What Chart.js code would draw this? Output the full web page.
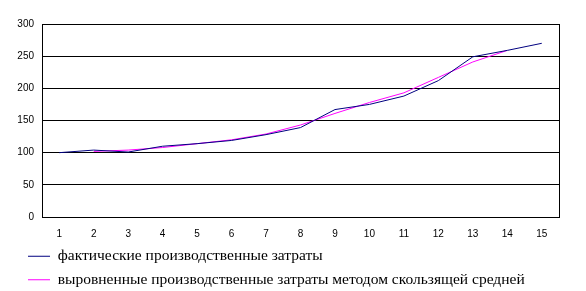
<!DOCTYPE html>
<html>
<head>
<meta charset="utf-8">
<script src="https://cdn.jsdelivr.net/npm/chart.js@4"></script>
<style>
  html, body { margin: 0; padding: 0; background: #fff; }
  #wrap { width: 586px; height: 291px; }
</style>
</head>
<body>
<div id="wrap"><canvas id="costChart"></canvas></div>
<script>
// --- DATA ---
const periods = ['1', '2', '3', '4', '5', '6', '7', '8', '9', '10', '11', '12', '13', '14', '15'];
const actualCosts = [100, 104, 101, 110, 114, 119, 128, 139, 167, 175, 188, 212, 249, 259, 270];
const smoothedCosts = [null, 102, 104, 108, 114, 120, 129, 143, 161, 178, 193, 217, 241, 259, null];
const seriesNames = [
  'фактические производственные затраты',
  'выровненные производственные затраты методом скользящей средней'
];

// рамка вокруг области построения + положение легенды
const plotBorder = {
  id: 'plotBorder',
  afterLayout(chart) {
    if (chart.legend) {
      chart.legend.left = 20;
      chart.legend.top = 240.5;
    }
  },
  afterDraw(chart) {
    const { ctx, chartArea: a } = chart;
    ctx.save();
    ctx.strokeStyle = '#000';
    ctx.lineWidth = 1;
    ctx.strokeRect(Math.round(a.left) + 0.5, Math.round(a.top) + 0.5,
      Math.round(a.right - a.left), Math.round(a.bottom - a.top));
    ctx.restore();
  }
};

const ctx = document.getElementById('costChart').getContext('2d');
const costChart = new Chart(ctx, {
  type: 'line',
  data: {
    labels: periods,
    datasets: [{
      label: seriesNames[0],
      data: actualCosts,
      borderColor: '#000080',
      backgroundColor: '#000080',
      borderWidth: 1,
      pointRadius: 0,
      tension: 0
    }, {
      label: seriesNames[1],
      data: smoothedCosts,
      borderColor: '#ff00ff',
      backgroundColor: '#ff00ff',
      borderWidth: 1,
      pointRadius: 0,
      tension: 0
    }]
  },
  options: {
    responsive: true,
    maintainAspectRatio: false,
    animation: false,
    layout: { padding: { left: 0, right: 27, top: 24, bottom: -17 } },
    plugins: {
      tooltip: { enabled: false },
      legend: {
        position: 'bottom',
        align: 'start',
        labels: {
          usePointStyle: true,
          pointStyle: 'line',
          pointStyleWidth: 22,
          padding: 8,
          color: '#000',
          font: { family: "'Liberation Serif', 'Times New Roman', serif", size: 15.5 }
        }
      }
    },
    scales: {
      x: {
        offset: true,
        grid: { display: false, drawTicks: false },
        border: { display: true, color: '#000', width: 1 },
        ticks: {
          color: '#000',
          padding: 11,
          maxRotation: 0,
          font: { family: "'Liberation Sans', Arial, sans-serif", size: 10 }
        }
      },
      y: {
        min: 0,
        max: 300,
        afterFit(scale) { scale.width = 42; },
        grid: { color: '#000', drawTicks: false },
        border: { display: true, color: '#000', width: 1 },
        ticks: {
          stepSize: 50,
          color: '#000',
          padding: 8,
          font: { family: "'Liberation Sans', Arial, sans-serif", size: 10 }
        }
      }
    }
  },
  plugins: [plotBorder]
});
</script>
</body>
</html>
